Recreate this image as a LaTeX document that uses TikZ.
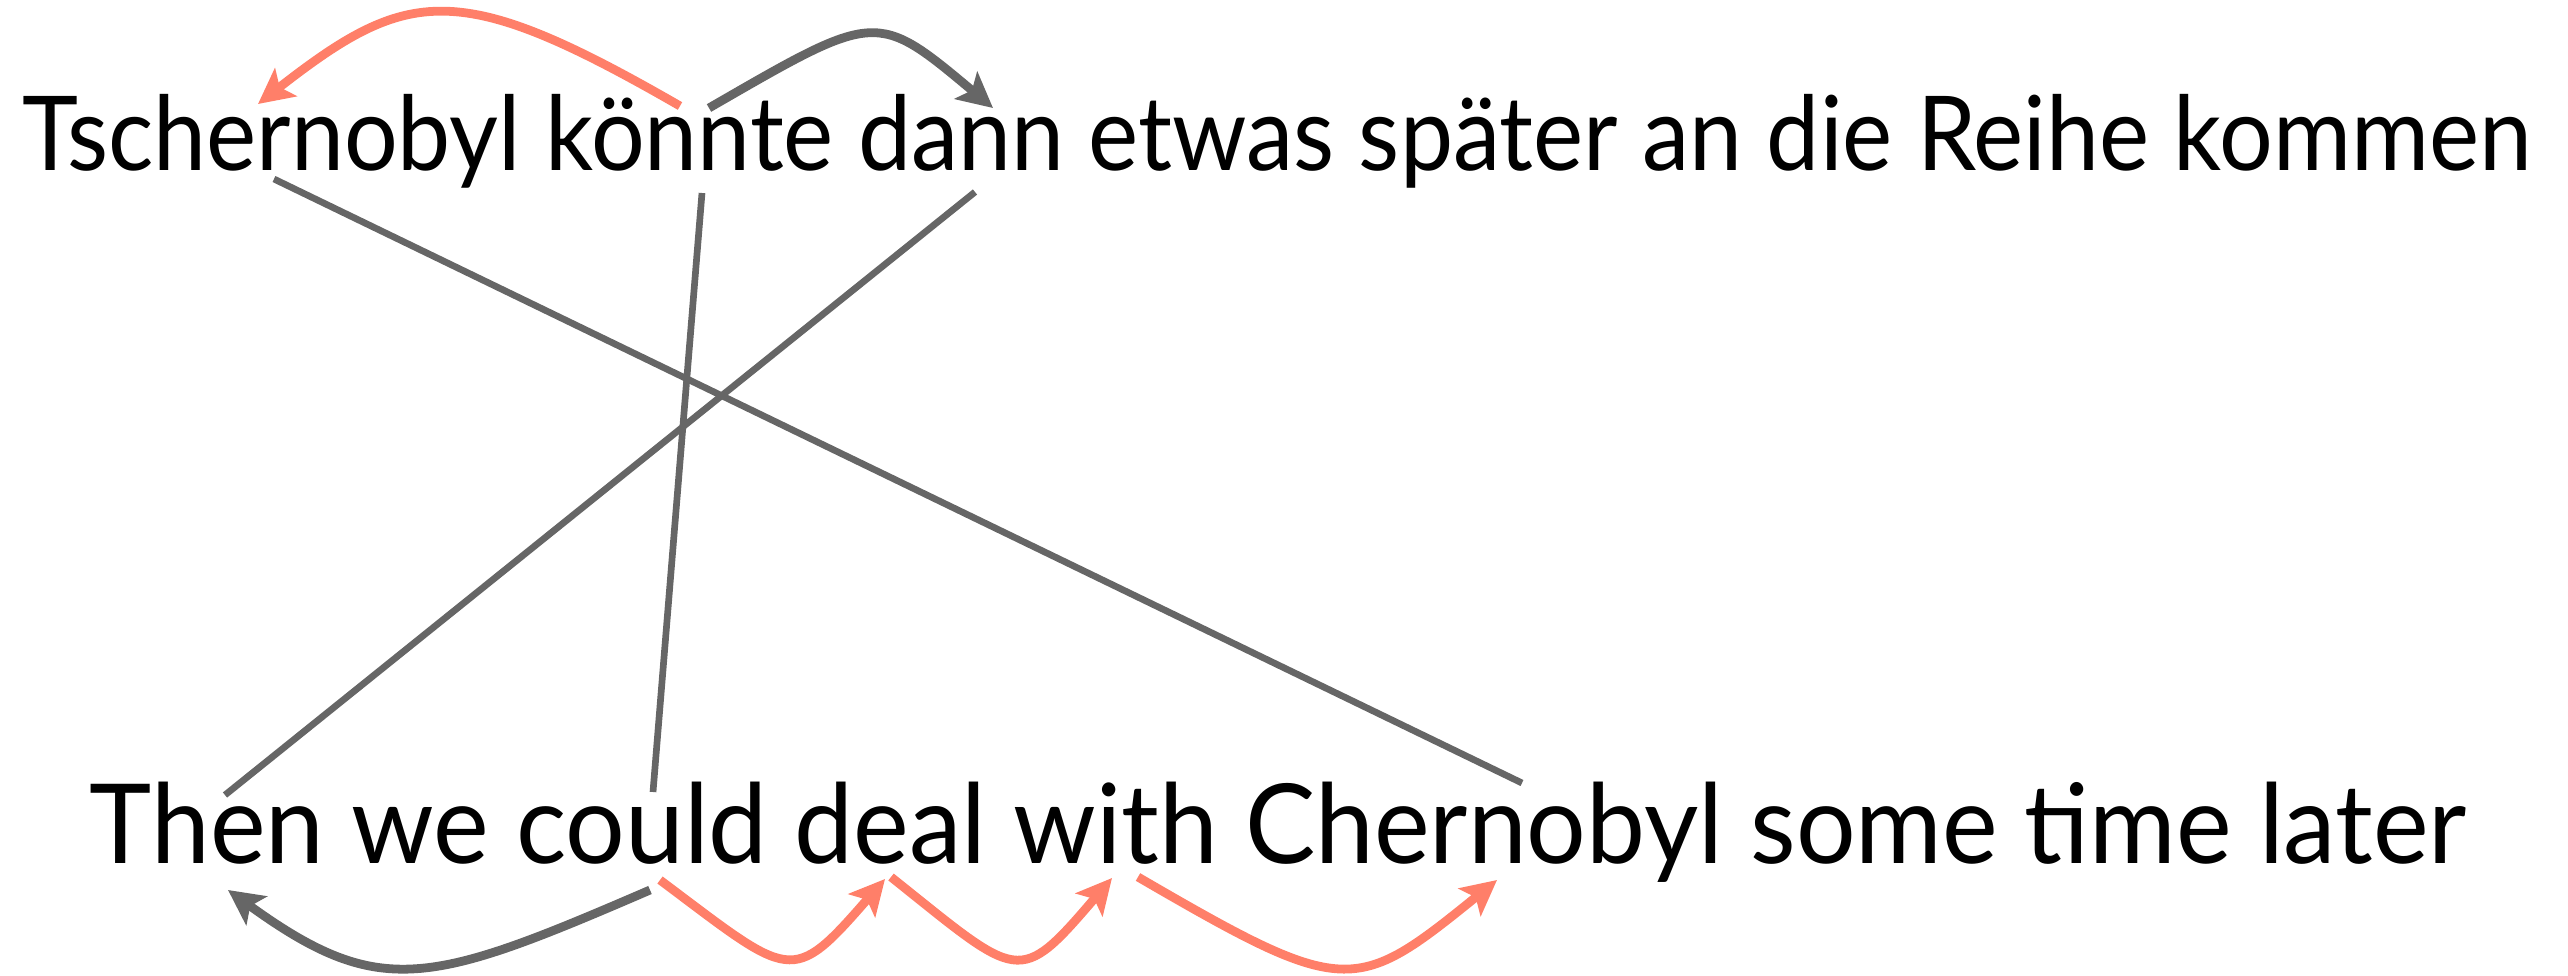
\documentclass[tikz,border=0pt]{standalone}
\usepackage{fontspec}
\setmainfont{Lato}
\usetikzlibrary{arrows.meta}
\definecolor{linegray}{HTML}{666666}
\definecolor{salmon}{HTML}{FF7F69}
\begin{document}
\begin{tikzpicture}[x=0.01cm,y=-0.01cm,
  alignline/.style={draw=linegray, line width=1.9pt},
  arcbase/.style={line width=2.5pt, -{Stealth[length=10pt,width=10pt,inset=2.2pt]}},
  grayarc/.style={arcbase, draw=linegray},
  salarc/.style={arcbase, draw=salmon},
  sent/.style={anchor=base west, inner sep=0pt, outer sep=0pt}]
\useasboundingbox (0,0) rectangle (2568,975);
\node[sent] (de) at (22,170) {\resizebox{25.08cm}{!}{\scalebox{1}[1.09]{Tschernobyl könnte dann etwas später an die Reihe kommen}}};
\node[sent] (en) at (90,863) {\resizebox{23.75cm}{!}{\scalebox{1}[1.05]{Then we could deal with Chernobyl some time later}}};
% endpoints of alignment lines
\coordinate (dTsch) at (274,179);
\coordinate (dkonn) at (702,193);
\coordinate (ddann) at (975,192);
\coordinate (eThen) at (225,795);
\coordinate (ecould) at (653,792);
\coordinate (eCher) at (1522,783);
\draw[alignline] (dTsch) -- (eCher);
\draw[alignline] (dkonn) -- (ecould);
\draw[alignline] (ddann) -- (eThen);
% arcs on German side
\coordinate (dA) at (680,106);
\coordinate (dAt) at (258,104);
\coordinate (dB) at (709,108);
\coordinate (dBt) at (993,108);
\draw[salarc] (dA) .. controls (458,-22) and (408,-13) .. (dAt);
\draw[grayarc] (dB) .. controls (877,11) and (876,10) .. (dBt);
% arcs on English side
\coordinate (eA) at (650,890);
\coordinate (eAt) at (228,890);
\coordinate (eB) at (660,880);
\coordinate (eBt) at (885,879);
\coordinate (eC) at (891,877);
\coordinate (eCt) at (1112,878);
\coordinate (eD) at (1138,877);
\coordinate (eDt) at (1497,880);
\draw[grayarc] (eA) .. controls (430,985) and (380,1000) .. (eAt);
\draw[salarc] (eB) .. controls (792,979) and (791,987) .. (eBt);
\draw[salarc] (eC) .. controls (1020,980) and (1018,988) .. (eCt);
\draw[salarc] (eD) .. controls (1346,998) and (1355,995) .. (eDt);
\end{tikzpicture}
\end{document}
